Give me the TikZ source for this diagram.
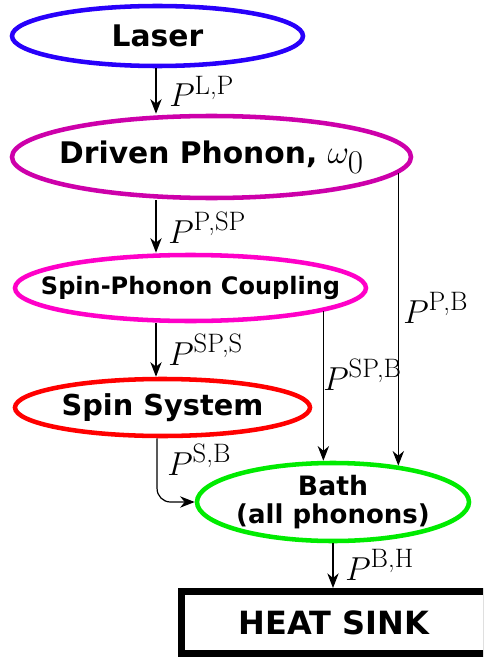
\documentclass[tikz,border=0pt]{standalone}
\usepackage{fontspec}
\newfontfamily\boxfont{DejaVu Sans}
\usetikzlibrary{shapes.geometric, arrows.meta}

\definecolor{laserblue}{RGB}{40,0,250}
\definecolor{drivenmag}{RGB}{205,0,170}
\definecolor{spcpink}{RGB}{255,0,200}
\definecolor{spinred}{RGB}{255,0,0}
\definecolor{bathgreen}{RGB}{0,235,0}

% one drawing unit = one pixel of a 483 x 660 canvas, y pointing down
\newcommand\pxu{0.75pt}
% power symbol P with an upright superscript pair
\newcommand\pw[1]{$P^{\mbox{\fontsize{20}{20}\selectfont #1}}$}

\tikzset{
  % the ellipse keeps its given size; its text is a centred label
  oval/.style={ellipse, line width=3.4pt, inner sep=0pt},
  ovaltext/.style={inner sep=0pt, align=center, text=black,
    font=\boxfont\bfseries\fontsize{22.3}{24}\selectfont},
  sinkbox/.style={rectangle, draw=black, line width=5.25pt, inner sep=0pt,
    font=\boxfont\bfseries\fontsize{24}{26}\selectfont},
  flow/.style={draw=black, line width=0.9pt,
    -{Stealth[length=11pt, width=8.5pt, inset=3.5pt]}},
  rate/.style={anchor=base west, inner sep=0pt,
    font=\fontsize{25}{30}\selectfont}
}

\begin{document}
\begin{tikzpicture}[x=0.75pt, y=-0.75pt]
\useasboundingbox (0,0) rectangle (483,660);
\clip (0,0) rectangle (483,660);

% reservoirs
\node[oval, draw=laserblue, minimum width=291*\pxu, minimum height=60*\pxu,
  label={[ovaltext]center:Laser}]
  (laser) at (157.5,36) {};
\node[oval, draw=drivenmag, minimum width=399*\pxu, minimum height=82*\pxu,
  label={[ovaltext]center:Driven Phonon, {\fontsize{33}{36}\selectfont$\omega_0$}}]
  (driven) at (211.5,157) {};
\node[oval, draw=spcpink, minimum width=351*\pxu, minimum height=66*\pxu,
  label={[ovaltext, font=\boxfont\bfseries\fontsize{18}{20}\selectfont]center:Spin-Phonon Coupling}]
  (spc) at (190.5,288) {};
\node[oval, draw=spinred, minimum width=295*\pxu, minimum height=57*\pxu,
  label={[ovaltext, font=\boxfont\bfseries\fontsize{21.6}{24}\selectfont]center:Spin System}]
  (spin) at (162.5,407.5) {};
\node[oval, draw=bathgreen, minimum width=272*\pxu, minimum height=78*\pxu,
  label={[ovaltext, font=\boxfont\bfseries\fontsize{20}{20.5}\selectfont]center:Bath\\{\fontsize{19.5}{20}\selectfont (all phonons)}}]
  (bath) at (333,502) {};
\node[sinkbox, minimum width=304.5*\pxu, minimum height=62*\pxu]
  (sink) at (333.75,622.5) {HEAT SINK};

% power flows
\coordinate (colL) at (156,0);
\draw[flow] (laser.south -| colL) -- (driven.north -| colL);
\draw[flow] (driven.south -| colL) -- (spc.north -| colL);
\draw[flow] (spc.south -| colL) -- (spin.north -| colL);
\draw[flow] (driven.-5) -- (driven.-5 |- bath.29);
\draw[flow] (spc.-10.5) -- (spc.-10.5 |- bath.north);
\draw[flow, rounded corners=10pt] (spin.-100) |- (bath.west);
\draw[flow] (bath.south) -- (bath.south |- sink.north);

% rate labels
\node[rate] (pLP)  at (169,107) {\pw{L,P}};
\node[rate] (pPSP) at (168,243) {\pw{P,SP}};
\node[rate] (pSPS) at (168,365) {\pw{SP,S}};
\node[rate] (pSPB) at (323,390) {\pw{SP,B}};
\node[rate] (pPB)  at (403,323) {\pw{P,B}};
\node[rate] (pSB)  at (167,475) {\pw{S,B}};
\node[rate] (pBH)  at (345,580) {\pw{B,H}};
\end{tikzpicture}
\end{document}
